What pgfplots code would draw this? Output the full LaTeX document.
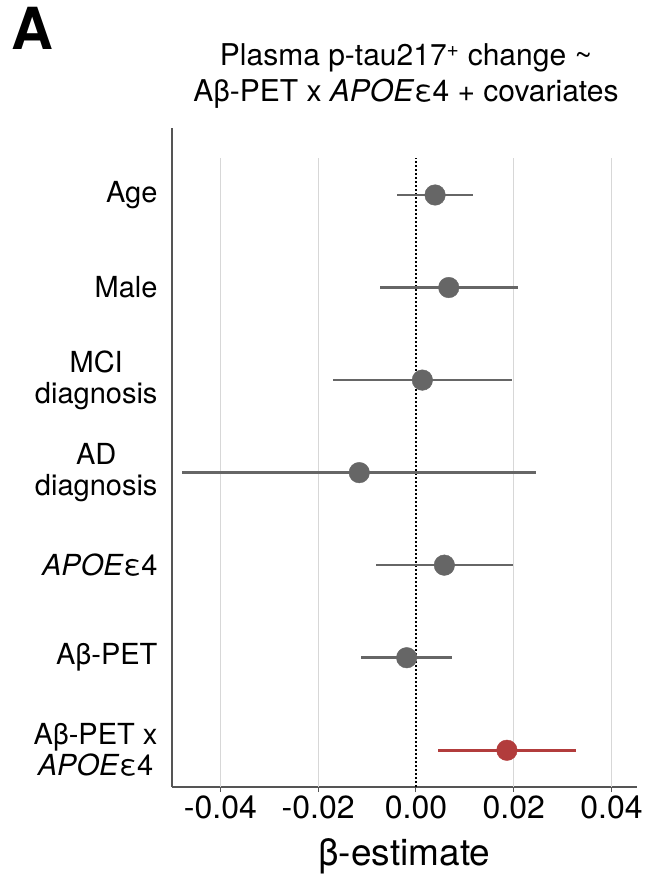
\documentclass[border=0pt]{standalone}
\usepackage{fontspec}
\setmainfont{TeX Gyre Heros}
\usepackage{pgfplots}
\usepackage{pgfplotstable}
\pgfplotsset{compat=1.18}

\definecolor{ptgray}{RGB}{102,102,102}
\definecolor{ptred}{RGB}{178,60,60}
\definecolor{gridgray}{RGB}{215,215,215}
\definecolor{axgray}{RGB}{85,85,85}

% position (7 = top row), estimate, lower and upper half-widths of the CI
\pgfplotstableread{
pos est   eminus eplus
7   0.0039 0.0078 0.0078
6   0.0067 0.0140 0.0141
5   0.0013 0.0183 0.0183
4  -0.0116 0.0363 0.0361
3   0.0058 0.0139 0.0140
2  -0.0019 0.0093 0.0093
}\covariates

\pgfplotstableread{
pos est   eminus eplus
1   0.0186 0.0140 0.0141
}\interaction

\begin{document}
\begin{tikzpicture}
\useasboundingbox (0,0) rectangle (650pt,880pt);
\begin{axis}[
  at={(172pt,93pt)}, anchor=south west,
  scale only axis, width=465pt, height=659pt,
  xmin=-0.0499, xmax=0.0452, ymin=0.603, ymax=7.724,
  axis lines*=left,
  axis line style={-, draw=axgray, line width=1.3pt},
  xtick={-0.04,-0.02,0,0.02,0.04},
  tick align=outside, major tick length=5pt,
  x tick style={draw=axgray, line width=1pt},
  ytick={1,2,3,4,5,6,7},
  yticklabels={{Aβ-PET x\\\textit{APOE}ε4},{Aβ-PET},{\textit{APOE}ε4},{AD\\diagnosis},{MCI\\diagnosis},{Male},{Age}},
  y tick style={draw=none},
  yticklabel style={align=center, font=\fontsize{29}{31}\selectfont, xshift=-6pt},
  xticklabel style={font=\fontsize{32}{34}\selectfont, /pgf/number format/.cd, fixed, fixed zerofill, precision=2, assume math mode=true},
  scaled x ticks=false,
  xlabel={β-estimate},
  xlabel style={font=\fontsize{37}{39}\selectfont, at={(axis description cs:0.5,0)}, anchor=base, yshift=-78pt},
  error bars/x dir=both, error bars/x explicit,
  error bars/error mark=none,
]
  % vertical reference lines
  \pgfplotsinvokeforeach{-0.04,-0.02,0.02,0.04}{
    \draw[gridgray, line width=1pt] (axis cs:#1,0.603) -- (axis cs:#1,7.40);
  }
  \draw[black, line width=2.2pt, dash pattern=on 2pt off 2pt] (axis cs:0,0.603) -- (axis cs:0,7.40);

  \addplot[only marks, mark=*, mark size=10.3pt, color=ptgray,
    error bars/error bar style={line width=2.6pt, color=ptgray}]
    table[x=est, y=pos, x error minus=eminus, x error plus=eplus] {\covariates};
  \addplot[only marks, mark=*, mark size=10.3pt, color=ptred,
    error bars/error bar style={line width=2.6pt, color=ptred}]
    table[x=est, y=pos, x error minus=eminus, x error plus=eplus] {\interaction};
\end{axis}

\node[anchor=base west, inner sep=0pt, font=\fontsize{58}{58}\selectfont\bfseries] at (11pt,830pt) {A};
\node[anchor=base, font=\fontsize{30}{32}\selectfont] at (406pt,814pt) {Plasma p-tau217\textsuperscript{+} change \textasciitilde};
\node[anchor=base, font=\fontsize{30}{32}\selectfont] at (406pt,778pt) {Aβ-PET x \textit{APOE}ε4 + covariates};
\end{tikzpicture}
\end{document}
